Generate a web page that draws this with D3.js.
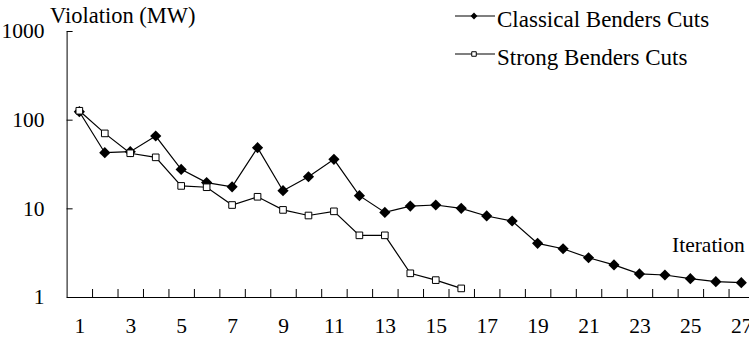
<!DOCTYPE html>
<html>
<head>
<meta charset="utf-8">
<script src="https://cdn.jsdelivr.net/npm/d3@7"></script>
<style>
  body { margin: 0; background: #fff; }
</style>
</head>
<body>
<svg width="749" height="340"></svg>
<script>
// data
const iterations = [1, 2, 3, 4, 5, 6, 7, 8, 9, 10, 11, 12, 13, 14, 15, 16, 17, 18, 19, 20, 21, 22, 23, 24, 25, 26, 27];
const classical = [123, 42.4, 43.5, 65.4, 27.5, 19.5, 17.5, 48.3, 15.8, 22.7, 35.7, 13.9, 9.0, 10.6, 10.9, 10.0, 8.2, 7.2, 4.03, 3.5, 2.77, 2.3, 1.82, 1.77, 1.61, 1.49, 1.45];
const strong = [126, 70, 41.8, 37.6, 17.9, 17.3, 10.9, 13.5, 9.6, 8.3, 9.25, 4.96, 4.96, 1.85, 1.55, 1.25];
const yTicks = [1, 10, 100, 1000];
const xLabels = [1, 3, 5, 7, 9, 11, 13, 15, 17, 19, 21, 23, 25, 27];

const FONT = '"Liberation Serif", "Times New Roman", serif';

const svg = d3.select('svg');
const plotLeft = 66.6, step = 25.46;
const plotTop = 31, plotBottom = 297;

const x = d3.scaleLinear()
    .domain([0.5, iterations.length + 0.5])
    .range([plotLeft, plotLeft + step * iterations.length]);
const y = d3.scaleLog()
    .domain([1, 1000])
    .range([plotBottom, plotTop]);

// x axis: tick marks between categories, labels on odd iterations
const boundaries = iterations.slice(0, -1).map(d => d + 0.5);
const xAxisG = svg.append('g')
    .attr('transform', `translate(0,${plotBottom})`)
    .call(d3.axisBottom(x).tickValues(boundaries).tickSize(-8).tickSizeOuter(0).tickFormat(''));
xAxisG.select('.domain').attr('stroke', '#000');
xAxisG.selectAll('.tick line').attr('stroke', '#000');

const xLabG = svg.append('g')
    .attr('transform', `translate(0,${plotBottom})`)
    .call(d3.axisBottom(x).tickValues(xLabels).tickSize(0).tickPadding(21));
xLabG.select('.domain').remove();
xLabG.attr('font-family', FONT).attr('font-size', 21.5);
xLabG.selectAll('text').attr('fill', '#000');

// y axis
const yAxisG = svg.append('g')
    .attr('transform', `translate(${plotLeft},0)`)
    .call(d3.axisLeft(y).tickValues(yTicks).tickSize(-6).tickSizeOuter(0).tickPadding(22).tickFormat(d3.format('d')));
yAxisG.select('.domain').attr('stroke', '#000');
yAxisG.selectAll('.tick line').attr('stroke', '#000');
yAxisG.attr('font-family', FONT).attr('font-size', 21.5);
yAxisG.selectAll('text').attr('fill', '#000');

// axis titles
svg.append('text').attr('x', 50).attr('y', 23)
    .attr('font-family', FONT).attr('font-size', 22.5).text('Violation (MW)');
svg.append('text').attr('x', 672).attr('y', 252)
    .attr('font-family', FONT).attr('font-size', 21.5).text('Iteration');

const line = d3.line()
    .x((d, i) => x(iterations[i]))
    .y(d => y(d));

const diamond = d3.symbol().type(d3.symbolDiamond2);
const square = d3.symbol().type(d3.symbolSquare2);

// classical series
svg.append('path')
    .datum(classical)
    .attr('fill', 'none')
    .attr('stroke', '#000')
    .attr('stroke-width', 1.2)
    .attr('d', line);
svg.selectAll('.cl').data(classical).enter().append('path')
    .attr('class', 'cl')
    .attr('transform', (d, i) => `translate(${x(iterations[i])},${y(d)})`)
    .attr('d', diamond.size(80))
    .attr('fill', '#000');

// strong series
svg.append('path')
    .datum(strong)
    .attr('fill', 'none')
    .attr('stroke', '#000')
    .attr('stroke-width', 1.2)
    .attr('d', line);
svg.selectAll('.st').data(strong).enter().append('path')
    .attr('class', 'st')
    .attr('transform', (d, i) => `translate(${x(iterations[i])},${y(d)})`)
    .attr('d', square.size(56))
    .attr('fill', '#fff')
    .attr('stroke', '#000')
    .attr('stroke-width', 1);

// legend
const legend = [
    { name: 'Classical Benders Cuts', y: 16, sym: 'd' },
    { name: 'Strong Benders Cuts', y: 54, sym: 's' }
];
legend.forEach(l => {
    svg.append('line')
        .attr('x1', 455).attr('x2', 495)
        .attr('y1', l.y).attr('y2', l.y)
        .attr('stroke', '#000').attr('stroke-width', 1.2);
    if (l.sym === 'd') {
        svg.append('path')
            .attr('transform', `translate(474,${l.y})`)
            .attr('d', d3.symbol().type(d3.symbolDiamond2).size(30)())
            .attr('fill', '#000');
    } else {
        svg.append('path')
            .attr('transform', `translate(474,${l.y})`)
            .attr('d', d3.symbol().type(d3.symbolSquare2).size(26)())
            .attr('fill', '#fff').attr('stroke', '#000');
    }
    svg.append('text')
        .attr('x', 497).attr('y', l.y + 11)
        .attr('font-family', FONT).attr('font-size', 23)
        .text(l.name);
});
</script>
</body>
</html>
